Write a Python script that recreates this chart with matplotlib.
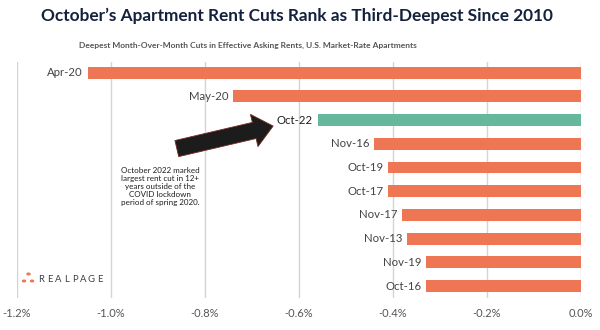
import matplotlib.pyplot as plt

# data (percent change, month-over-month)
months = ["Apr-20", "May-20", "Oct-22", "Nov-16", "Oct-19",
          "Oct-17", "Nov-17", "Nov-13", "Nov-19", "Oct-16"]
cuts = [-1.05, -0.74, -0.56, -0.44, -0.41, -0.41, -0.38, -0.37, -0.33, -0.33]
highlight = "Oct-22"
xticks = [-1.2, -1.0, -0.8, -0.6, -0.4, -0.2, 0.0]

ORANGE = "#EE7654"
TEAL = "#65B89C"

plt.rcParams['font.family'] = ['Lato', 'DejaVu Sans']

fig = plt.figure(figsize=(6, 3.3), dpi=100)
ax = fig.add_axes([17/600, 1-298/330, 564/600, 236/330])

ypos = list(range(len(months)))
colors = [TEAL if m == highlight else ORANGE for m in months]
ax.barh(ypos, cuts, height=0.5, color=colors, zorder=3)

# labels sit just left of each bar
for y, m, v in zip(ypos, months, cuts):
    ax.text(v - 0.01, y, m, ha='right', va='center', fontsize=8.2,
            color='#1e1e1e' if m == highlight else '#444444', zorder=4)

ax.set_xlim(-1.2, 0.0)
ax.set_ylim(len(months) - 0.5, -0.45)
ax.set_xticks(xticks)
ax.set_xticklabels(["%.1f%%" % t for t in xticks], fontsize=8, color='#555555')
ax.set_yticks([])
ax.tick_params(axis='x', length=0, pad=7)
ax.grid(axis='x', color='#d4d4d4', linewidth=1, zorder=0)
for s in ax.spines.values():
    s.set_visible(False)

# arrow pointing to Oct-22
ax.annotate("", xy=(-0.655, 2.25), xytext=(-0.86, 3.2),
            arrowprops=dict(arrowstyle="simple,head_length=1.0,head_width=1.7,tail_width=0.85",
                            fc='#1c1c1c', ec='#7a2a20', lw=0.6, mutation_scale=14,
                            shrinkA=0, shrinkB=0),
            zorder=5)

ax.text(-0.895, 4.8, "October 2022 marked\nlargest rent cut in 12+\nyears outside of the\nCOVID lockdown\nperiod of spring 2020.",
        ha='center', va='center', fontsize=5.8, color='#1e1e1e', linespacing=1.2)

# logo: three dots and spaced-out lettering
for px, py in [(24, 281), (28.5, 274), (32, 281)]:
    fig.patches.append(plt.Circle((px/600, 1-py/330), 1.5/600, transform=fig.transFigure,
                                  color=ORANGE))
for i, ch in enumerate("REALPAGE"):
    fig.text((41.5 + i*8.3)/600, 1-280/330, ch, fontsize=6.8, color='#3b4048',
             ha='center', va='center')

fig.text(297/600, 1-16/330, "October\u2019s Apartment Rent Cuts Rank as Third-Deepest Since 2010",
         ha='center', va='center', fontsize=12.4, color='#14213d', fontweight='bold')
fig.text(248/600, 1-45/330, "Deepest Month-Over-Month Cuts in Effective Asking Rents, U.S. Market-Rate Apartments",
         ha='center', va='center', fontsize=6.0, color='#555555', fontweight='bold')

fig.savefig("out.png", dpi=100)
